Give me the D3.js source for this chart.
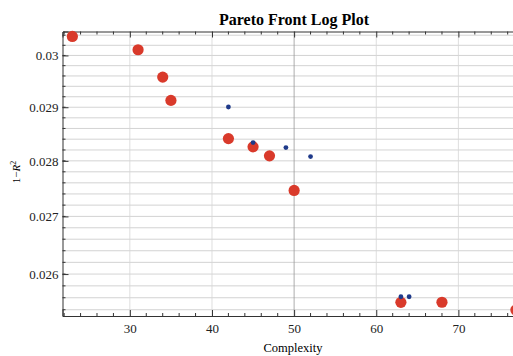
<!DOCTYPE html>
<html>
<head>
<meta charset="utf-8">
<script src="https://cdn.jsdelivr.net/npm/d3@7"></script>
<style>
  body { margin: 0; background: #fff; }
  svg { display: block; font-family: "Liberation Serif", "DejaVu Serif", serif; }
  .grid line { stroke: #c8c8c8; stroke-width: 0.8; }
  .axis path, .axis line { stroke: #333; }
  .axis text { font-family: "Liberation Serif", serif; font-size: 13px; fill: #222; }
</style>
</head>
<body>
<svg width="513" height="356"></svg>
<script>
// complexity vs 1-R^2
var frontX = [23, 31, 34, 35, 42, 45, 47, 50, 63, 68, 77];
var frontY = [0.030375, 0.030112, 0.029578, 0.02913, 0.028411, 0.028258, 0.028092, 0.027463, 0.025523, 0.025525, 0.025395];
var otherX = [42, 45, 49, 52, 63, 64];
var otherY = [0.029005, 0.028337, 0.028245, 0.028079, 0.025617, 0.025617];

var xTicks = [30, 40, 50, 60, 70];
var yTicks = [0.026, 0.027, 0.028, 0.029, 0.03];

var svg = d3.select("svg"),
    margin = {top: 31.5, right: -7, bottom: 40, left: 62.5},
    width = svg.attr("width") - margin.left - margin.right,
    height = svg.attr("height") - margin.top - margin.bottom;

var x = d3.scaleLinear()
    .domain([21.8, 77.5])
    .range([0, width]);

var y = d3.scaleLog()
    .domain([0.025296, 0.030474])
    .range([height, 0]);

var g = svg.append("g")
    .attr("transform", "translate(" + margin.left + "," + margin.top + ")");

// minor grid every 0.0002
var minor = d3.range(0.0254, 0.0305, 0.0002).filter(v => v < y.domain()[1]);
g.append("g").attr("class", "grid")
  .selectAll("line").data(minor).enter().append("line")
    .attr("x1", 0).attr("x2", width)
    .attr("y1", d => y(d)).attr("y2", d => y(d));

g.append("g").attr("class", "grid")
  .selectAll("line").data(xTicks).enter().append("line")
    .attr("x1", d => x(d)).attr("x2", d => x(d))
    .attr("y1", 0).attr("y2", height)
    .style("stroke", d => d == 50 ? "#999" : "#d6d6d6");

// frame
var xb = d3.axisBottom(x).tickValues(xTicks).tickSize(-6).tickPadding(8);
g.append("g").attr("class", "axis")
    .attr("transform", "translate(0," + height + ")")
    .call(xb);
g.append("g").attr("class", "axis")
    .call(d3.axisTop(x).tickValues(xTicks).tickSize(-6).tickFormat(""));

var xMinor = d3.range(22, 78, 2).filter(v => xTicks.indexOf(v) < 0);
[[height, -3], [0, 3]].forEach(function(p) {
  g.append("g").selectAll("line").data(xMinor).enter().append("line")
    .attr("x1", d => x(d)).attr("x2", d => x(d))
    .attr("y1", p[0]).attr("y2", p[0] + p[1])
    .attr("stroke", "#333");
});

g.append("g").attr("class", "axis")
    .call(d3.axisLeft(y).tickValues(yTicks).tickSize(-6).tickPadding(4)
      .tickFormat(d => d3.format("")(+d.toFixed(3))));

g.append("g").selectAll("line").data(minor).enter().append("line")
    .attr("x1", 0).attr("x2", 3)
    .attr("y1", d => y(d)).attr("y2", d => y(d))
    .attr("stroke", "#333");

// points
g.selectAll("circle.front").data(frontX).enter().append("circle")
    .attr("class", "front")
    .attr("cx", (d, i) => x(d))
    .attr("cy", (d, i) => y(frontY[i]))
    .attr("r", 5.6)
    .attr("fill", "#d93a2b");

g.selectAll("circle.other").data(otherX).enter().append("circle")
    .attr("class", "other")
    .attr("cx", (d, i) => x(d))
    .attr("cy", (d, i) => y(otherY[i]))
    .attr("r", 2.4)
    .attr("fill", "#1f3a8a");

// labels
svg.append("text")
    .attr("x", 294).attr("y", 25)
    .attr("text-anchor", "middle")
    .style("font-size", "16px").style("font-weight", "bold")
    .text("Pareto Front Log Plot");

svg.append("text")
    .attr("x", 293).attr("y", 352)
    .attr("text-anchor", "middle")
    .style("font-size", "12.5px")
    .text("Complexity");

var yl = svg.append("text")
    .attr("transform", "translate(20,172) rotate(-90)")
    .attr("text-anchor", "middle")
    .style("font-size", "11px");
yl.append("tspan").text("1\u2212");
yl.append("tspan").style("font-style", "italic").text("R");
yl.append("tspan").attr("dy", -4).style("font-size", "8px").text("2");
</script>
</body>
</html>
